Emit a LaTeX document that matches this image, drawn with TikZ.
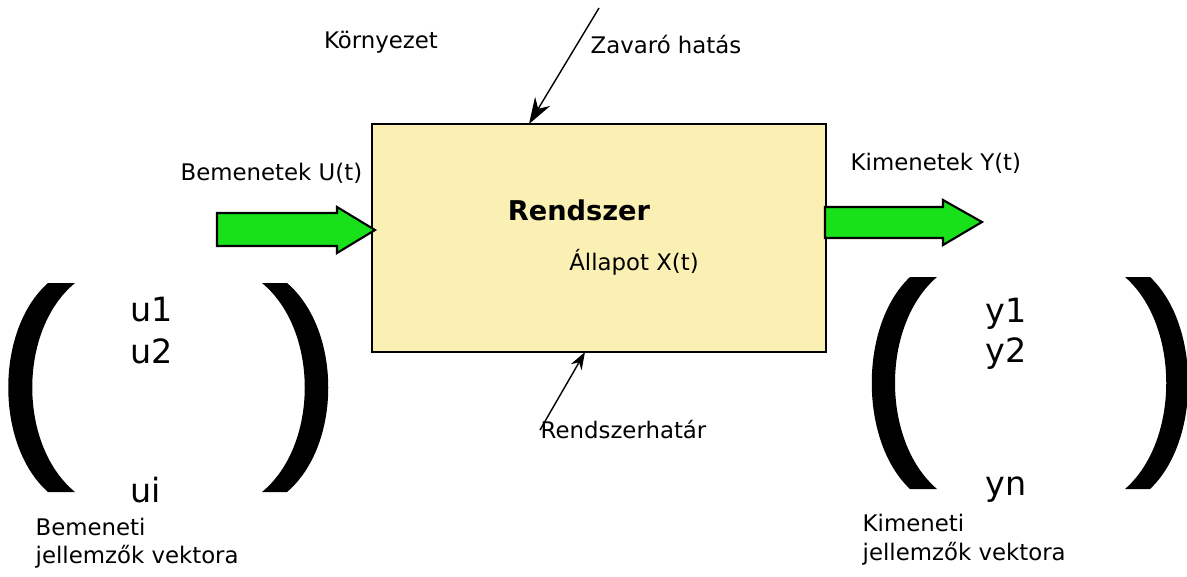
\documentclass[tikz,border=0pt]{standalone}
\usepackage{fontspec}
\setmainfont{DejaVu Sans}
\usetikzlibrary{arrows.meta,positioning}
\definecolor{dobozsarga}{RGB}{250,240,180}
\definecolor{nyilzold}{RGB}{25,225,25}

\begin{document}
\begin{tikzpicture}[x=0.02cm,y=-0.02cm,>={Stealth[length=15pt,width=10pt]},
                    line width=0.8pt]
\tikzstyle{felirat}=[font=\fontsize{13pt}{15pt}\selectfont,inner sep=0pt]
\tikzstyle{elem}=[font=\fontsize{19pt}{22pt}\selectfont,inner sep=0pt,anchor=west]
\tikzstyle{zold}=[fill=nyilzold,draw=black,line width=1.2pt,line join=miter]
\tikzstyle{zarojel}=[fill=black,draw=none]

\useasboundingbox (0,0) rectangle (1187,576);

        \node[draw=black,fill=dobozsarga,minimum width=9.08cm,minimum height=4.56cm,inner sep=0pt]
                                             (rendszer)   at (599,238)   {};
        \node[font=\fontsize{15.5pt}{18pt}\selectfont\bfseries,inner sep=0pt]
                                             (nev)        at (579,210)   {Rendszer};
        \node[felirat]                       (allapot)    at (634,262)   {Állapot X(t)};
        \node[felirat]                       (kornyezet)  at (381,42)    {Környezet};
        \node[felirat,anchor=west]           (zavaro)     at (590,45)    {Zavaró hatás};
        \node[felirat,anchor=west]           (bemenetek)  at (180,173)   {Bemenetek U(t)};
        \node[felirat,anchor=west]           (kimenetek)  at (850,163)   {Kimenetek Y(t)};
        \node[felirat,anchor=west]           (hatarfelirat) at (540,430) {Rendszerhatár};

        % vektorok
        \node[elem]                          (u1)         at (130,310)   {u1};
        \node[elem]                          (u2)         at (130,351)   {u2};
        \node[elem]                          (ui)         at (130,490)   {ui};
        \node[elem]                          (y1)         at (985,314)   {y1};
        \node[elem]                          (y2)         at (985,354)   {y2};
        \node[elem]                          (yn)         at (985,490)   {yn};
        \node[felirat,anchor=west]           (bemeneti)   at (35,527)    {Bemeneti};
        \node[felirat,anchor=west]           (bjell)      at (35,557)    {jellemzők vektora};
        \node[felirat,anchor=west]           (kimeneti)   at (862,523)   {Kimeneti};
        \node[felirat,anchor=west]           (kjell)      at (862,554)   {jellemzők vektora};

        \coordinate (zavar)  at (599,8);
        \coordinate (hatas)  at (529,124);
        \coordinate (hatar)  at (585,352);

        \draw[->] (zavar) -- (hatas);
        \draw[->,>={Stealth[length=10pt,width=7pt]}] (hatarfelirat.west) -- (hatar);

        % zold nyilak
        \filldraw[zold] (217,213) -- (337,213) -- (337,207) -- (375,230) -- (337,253)
                        -- (337,246) -- (217,246) -- cycle;
        \filldraw[zold] (825,207) -- (943,207) -- (943,200) -- (982,222) -- (943,245)
                        -- (943,238) -- (825,238) -- cycle;

        % zarojelek
        \fill[zarojel] (48,283) .. controls (-5,330) and (-5,445) .. (48,492)
                       -- (75,492) .. controls (18,445) and (18,330) .. (75,283) -- cycle;
        \fill[zarojel] (287,283) .. controls (342,330) and (342,445) .. (287,492)
                       -- (262,492) .. controls (319,445) and (319,330) .. (262,283) -- cycle;
        \fill[zarojel] (910,277) .. controls (859,325) and (859,441) .. (910,489)
                       -- (937,489) .. controls (881,441) and (881,325) .. (937,277) -- cycle;
        \fill[zarojel] (1150,277) .. controls (1201,325) and (1201,441) .. (1150,489)
                       -- (1125,489) .. controls (1180,441) and (1180,325) .. (1125,277) -- cycle;
\end{tikzpicture}
\end{document}
